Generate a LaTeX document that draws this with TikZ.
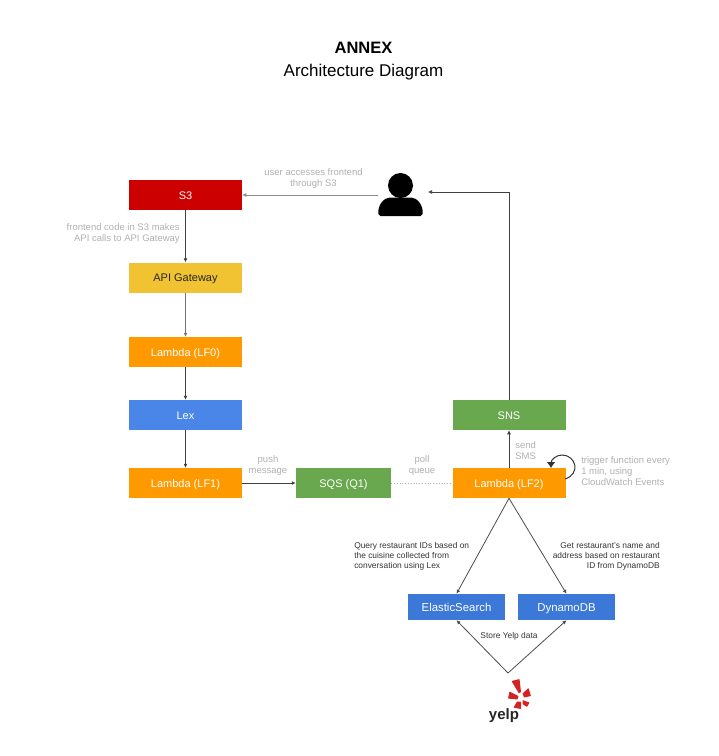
\documentclass[tikz,border=0pt]{standalone}
\usepackage{fontspec}
\setmainfont{Liberation Sans}
\usetikzlibrary{arrows.meta}
\definecolor{boxred}{HTML}{CC0000}
\definecolor{boxyellow}{HTML}{F1C232}
\definecolor{boxorange}{HTML}{FF9900}
\definecolor{boxblue}{HTML}{4A86E8}
\definecolor{boxdeep}{HTML}{3C78D8}
\definecolor{boxgreen}{HTML}{6AA84F}
\definecolor{notegray}{HTML}{B0B0B0}
\definecolor{yelpred}{HTML}{D32323}
\tikzset{
  box/.style={anchor=center,inner sep=0pt,minimum width=113pt,minimum height=30pt,text height=8pt,text depth=0pt,text=white,font=\fontsize{11}{13}\selectfont},
  dbbox/.style={box,fill=boxdeep,minimum width=97pt,minimum height=26pt,font=\fontsize{11.4}{14}\selectfont},
  note/.style={inner sep=0pt,text=notegray,font=\fontsize{9.5}{11.2}\selectfont},
  darknote/.style={inner sep=0pt,text=black!80,font=\fontsize{8.4}{9.9}\selectfont},
  flow/.style={draw=black!75,line width=.7pt,-{Latex[length=4pt,width=4pt]}},
  petal/.style={fill=yelpred,rounded corners=.5pt},
}
\begin{document}
\begin{tikzpicture}[x=1pt,y=-1pt,line width=.5pt]
\path[use as bounding box] (0,0) rectangle (719,756);
\node[anchor=center,inner sep=0pt,font=\fontsize{16.5}{19}\selectfont\bfseries] (title) at (363.5,48) {ANNEX};
\node[anchor=center,inner sep=0pt,font=\fontsize{17}{19}\selectfont] (subtitle) at (363.5,72) {Architecture Diagram};
% left column
\node[box,fill=boxred] (s3) at (185.5,195) {S3};
\node[box,fill=boxyellow,text=black!85] (gateway) at (185.5,277.5) {API Gateway};
\node[box,fill=boxorange] (lf0) at (185.5,352) {Lambda (LF0)};
\node[box,fill=boxblue] (lex) at (185.5,415) {Lex};
\node[box,fill=boxorange] (lf1) at (185.5,483) {Lambda (LF1)};
\node[box,fill=boxgreen,minimum width=95pt] (sqs) at (343.5,483) {SQS (Q1)};
% right column
\node[box,fill=boxorange] (lf2) at (509,483) {Lambda (LF2)};
\node[box,fill=boxgreen] (sns) at (509,415) {SNS};
\node[dbbox] (es) at (456.5,607) {ElasticSearch};
\node[dbbox] (ddb) at (566.5,607) {DynamoDB};
% user
\node[inner sep=0pt,minimum width=45pt,minimum height=44pt] (user) at (400.5,195) {};
\fill (400.5,185.5) circle (12.5);
\fill[rounded corners=2pt] (378.5,216) .. controls (377.5,205) and (384,197.5) .. (392,197.5) -- (409,197.5) .. controls (417,197.5) and (423.5,205) .. (422.5,216) -- cycle;
\coordinate (userin) at (428,192);
% yelp
\coordinate (yelptop) at (508,673);
\path[petal] (511.5,681) -- (519.5,679) -- (521,692) -- (519,693.5) -- cycle;
\path[petal] (522.5,693.5) -- (528.5,688) -- (531,696) -- (524,697.5) -- cycle;
\path[petal] (509.5,691.5) -- (518.5,696) -- (517.5,699.5) -- (508,698.5) -- cycle;
\path[petal] (517,701.5) -- (521,701.5) -- (521,709) -- (513.5,707.5) -- cycle;
\path[petal] (522.5,700) -- (529.5,702.5) -- (527,707) -- (522.5,704) -- cycle;
\node[inner sep=0pt,font=\fontsize{15}{17}\selectfont\bfseries,text=black!85] (yelp) at (504,715.5) {yelp};
% connectors
\draw[flow,draw=notegray!80!black] (user.west) -- (s3.east);
\draw[flow] (s3) -- (gateway);
\draw[flow,draw=black!55] (gateway) -- (lf0);
\draw[flow] (lf0) -- (lex);
\draw[flow] (lex) -- (lf1);
\draw[flow,line width=1pt] (lf1) -- (sqs);
\draw[draw=notegray,line width=.8pt,dotted] (sqs) -- (lf2);
\draw[flow] (lf2) -- (sns);
\draw[flow] (sns.north) |- (userin);
\draw[flow,draw=black!70,line width=.8pt] (lf2.south) -- (es.north);
\draw[flow,draw=black!70,line width=.8pt] (lf2.south) -- (ddb.north);
\draw[flow,draw=black!70,line width=.8pt] (yelptop) -- (es.south);
\draw[flow,draw=black!70,line width=.8pt] (yelptop) -- (ddb.south);
\draw[line width=1pt,draw=black!80,-{Latex[length=6pt,width=9pt]}] (565,479) .. controls (581,474) and (576,455) .. (562,455) .. controls (556,455) and (551,460) .. (551,468);
% labels
\node[note,align=center] (n1) at (313.5,178.5) {user accesses frontend\\through S3};
\node[note,align=right,anchor=east] (n2) at (180,233.5) {frontend code in S3 makes\\API calls to API Gateway};
\node[note,align=center] (n3) at (268,465.5) {push\\message};
\node[note,align=center] (n4) at (422,465.5) {poll\\queue};
\node[note,align=left,anchor=west] (n5) at (515,450.5) {send\\SMS};
\node[note,align=left,anchor=west] (n6) at (581,471) {trigger function every\\1 min, using\\CloudWatch Events};
\node[darknote,align=left,anchor=west] (n7) at (354,556) {Query restaurant IDs based on\\the cuisine collected from\\conversation using Lex};
\node[darknote,align=right,anchor=east] (n8) at (660,556) {Get restaurant's name and\\address based on restaurant\\ID from DynamoDB};
\node[darknote] (n9) at (509,636) {Store Yelp data};
\end{tikzpicture}
\end{document}
